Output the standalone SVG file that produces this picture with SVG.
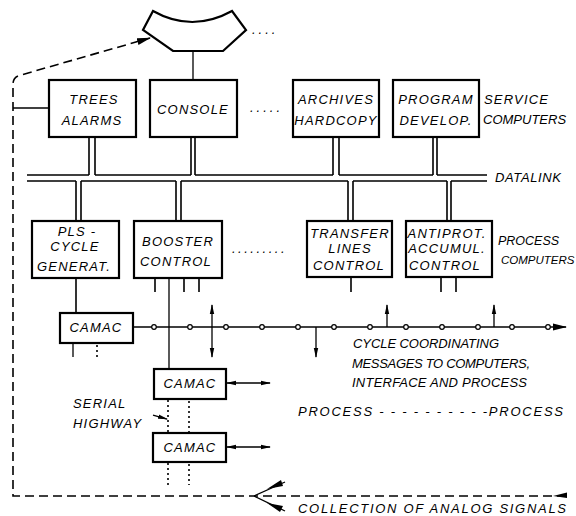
<svg xmlns="http://www.w3.org/2000/svg" width="576" height="516" viewBox="0 0 576 516">
<style>
.bx{fill:#fff;stroke:#000;stroke-width:2.2}
.ln{fill:none;stroke:#000;stroke-width:1.3}
.dl{fill:none;stroke:#000;stroke-width:1.6}
.dash{fill:none;stroke:#000;stroke-width:1.6;stroke-dasharray:9,5}
.dot{fill:none;stroke:#000;stroke-width:1.6;stroke-dasharray:2,3}
.t{font-family:"Liberation Sans",Arial,sans-serif;font-style:italic;font-size:13px;letter-spacing:1.2px;fill:#000}
.n{letter-spacing:0}
.m{text-anchor:middle}
.c{fill:#fff;stroke:#000;stroke-width:1.2}
</style>
<defs>
<marker id="ah" viewBox="0 0 10 6" refX="9" refY="3" markerWidth="10" markerHeight="6" markerUnits="userSpaceOnUse" orient="auto-start-reverse">
<path d="M0,0.8 L10,3 L0,5.2 Z" fill="#000"/>
</marker>
<marker id="ah2" viewBox="0 0 14 8" refX="13" refY="4" markerWidth="14" markerHeight="8" markerUnits="userSpaceOnUse" orient="auto">
<path d="M0,0.5 L14,4 L0,7.5 Z" fill="#000"/>
</marker>
</defs>

<g id="monitor">
<path class="bx" d="M153,11 Q192,33 232,11 L246,30 L223,51 L173,51 L143,30 Z"/>
<text class="t" x="252" y="34" style="letter-spacing:3px">....</text>
</g>

<g id="trees">
<rect class="bx" x="49" y="80" width="87" height="57"/>
<text class="t m" x="94" y="104">TREES</text>
<text class="t m" x="92" y="125">ALARMS</text>
</g>
<g id="console">
<rect class="bx" x="150" y="80" width="87" height="57"/>
<text class="t m" x="193" y="114">CONSOLE</text>
</g>
<text class="t" x="250" y="112" style="letter-spacing:3px">.....</text>
<g id="archives">
<rect class="bx" x="293" y="80" width="86" height="57"/>
<text class="t m" x="336" y="104">ARCHIVES</text>
<text class="t m" x="336" y="125">HARDCOPY</text>
</g>
<g id="program">
<rect class="bx" x="393" y="80" width="86" height="57"/>
<text class="t m" x="436" y="104">PROGRAM</text>
<text class="t m" x="436" y="125">DEVELOP.</text>
</g>
<text class="t n" x="484" y="104" textLength="64" lengthAdjust="spacing">SERVICE</text>
<text class="t n" x="483" y="124">COMPUTERS</text>

<g id="pls">
<rect class="bx" x="32" y="221" width="87" height="57"/>
<text class="t m" x="77" y="236">PLS -</text>
<text class="t m" x="75" y="251">CYCLE</text>
<text class="t m" x="74" y="271">GENERAT.</text>
</g>
<g id="booster">
<rect class="bx" x="134" y="221" width="88" height="57"/>
<text class="t m" x="178" y="246">BOOSTER</text>
<text class="t m" x="176" y="266">CONTROL</text>
</g>
<text class="t" x="232" y="253" style="letter-spacing:2.5px">.........</text>
<g id="transfer">
<rect class="bx" x="307" y="221" width="85" height="56"/>
<text class="t m" x="350" y="238">TRANSFER</text>
<text class="t m" x="350" y="253">LINES</text>
<text class="t m" x="349" y="270">CONTROL</text>
</g>
<g id="antiprot">
<rect class="bx" x="406" y="221" width="86" height="56"/>
<text class="t m" x="447" y="238">ANTIPROT.</text>
<text class="t m" x="447" y="253">ACCUMUL.</text>
<text class="t m" x="445" y="270">CONTROL</text>
</g>
<text class="t n" x="498" y="245" style="font-size:12.5px">PROCESS</text>
<text class="t n" x="501" y="264" style="font-size:11.5px">COMPUTERS</text>

<g id="camac1">
<rect class="bx" x="60" y="313" width="73" height="30"/>
<text class="t m" x="96" y="332">CAMAC</text>
</g>
<g id="camac2">
<rect class="bx" x="154" y="369" width="72" height="30"/>
<text class="t m" x="190" y="388">CAMAC</text>
</g>
<g id="camac3">
<rect class="bx" x="153" y="433" width="73" height="29"/>
<text class="t m" x="190" y="452">CAMAC</text>
</g>

<text class="t n" x="495" y="182" textLength="66" lengthAdjust="spacing">DATALINK</text>
<text class="t n" x="353" y="348" textLength="146" lengthAdjust="spacing">CYCLE COORDINATING</text>
<text class="t n" x="352" y="368" textLength="178" lengthAdjust="spacing">MESSAGES TO COMPUTERS,</text>
<text class="t n" x="352" y="387" textLength="175" lengthAdjust="spacing">INTERFACE AND PROCESS</text>
<text class="t n" x="298" y="416" textLength="265" lengthAdjust="spacing">PROCESS - - - - - - - - - -PROCESS</text>
<text class="t" x="73" y="408">SERIAL</text>
<text class="t" x="73" y="428">HIGHWAY</text>
<text class="t n" x="298" y="513" textLength="268" lengthAdjust="spacing">COLLECTION OF ANALOG SIGNALS</text>

<g id="connectors">
<line class="ln" x1="193" y1="51" x2="193" y2="80"/>
<path class="dl" d="M27,175 H89 M95,175 H191 M195,175 H333 M339,175 H433 M437,175 H487"/>
<path class="dl" d="M27,181 H76 M81,181 H176 M181,181 H348 M353,181 H447 M451,181 H487"/>
<path class="dl" d="M89,137 V175 M95,137 V175 M191,137 V175 M195,137 V175 M333,137 V175 M339,137 V175 M433,137 V175 M437,137 V175"/>
<path class="dl" d="M76,181 V221 M81,181 V221 M176,181 V221 M181,181 V221 M348,181 V221 M353,181 V221 M447,181 V221 M451,181 V221"/>
<line class="ln" x1="13" y1="108" x2="49" y2="108"/>
<path class="dl" d="M155,278 V292 M184,278 V292 M199,278 V292"/>
<line class="ln" x1="169" y1="278" x2="169" y2="369"/>
<path class="dl" d="M351,277 V292 M441,277 V292 M456,277 V292"/>
<line class="dl" x1="76" y1="278" x2="76" y2="313"/>
<line class="ln" x1="73" y1="343" x2="73" y2="357"/>
<line class="dot" x1="97" y1="345" x2="97" y2="357"/>
<line class="dl" x1="133" y1="327" x2="566" y2="327" marker-end="url(#ah2)"/>
<g>
<circle class="c" cx="154" cy="327" r="2.3"/><circle class="c" cx="190" cy="327" r="2.3"/>
<circle class="c" cx="226" cy="327" r="2.3"/><circle class="c" cx="262" cy="327" r="2.3"/>
<circle class="c" cx="298" cy="327" r="2.3"/><circle class="c" cx="334" cy="327" r="2.3"/>
<circle class="c" cx="370" cy="327" r="2.3"/><circle class="c" cx="406" cy="327" r="2.3"/>
<circle class="c" cx="442" cy="327" r="2.3"/><circle class="c" cx="478" cy="327" r="2.3"/>
<circle class="c" cx="512" cy="327" r="2.3"/><circle class="c" cx="548" cy="327" r="2.3"/>
</g>
<line class="ln" x1="212" y1="305" x2="212" y2="357" marker-start="url(#ah)" marker-end="url(#ah)"/>
<line class="ln" x1="316" y1="327" x2="316" y2="357" marker-end="url(#ah)"/>
<line class="ln" x1="387" y1="327" x2="387" y2="305" marker-end="url(#ah)"/>
<line class="ln" x1="494" y1="327" x2="494" y2="305" marker-end="url(#ah)"/>
<line class="ln" x1="227" y1="383" x2="270" y2="383" marker-start="url(#ah)" marker-end="url(#ah)"/>
<line class="ln" x1="227" y1="447" x2="270" y2="447" marker-start="url(#ah)" marker-end="url(#ah)"/>
<path class="dot" d="M168,400 V433 M189,401 V433 M168,463 V485 M189,464 V485"/>
<line class="ln" x1="153" y1="415" x2="167" y2="419" marker-end="url(#ah)"/>
<path class="dash" d="M566,496 H13 V84 Q13,77 21,75 L150,38" marker-end="url(#ah2)"/>
<path d="M553,496 L567,492.5 L567,498 Z" fill="#000"/>
<line class="ln" x1="285" y1="482" x2="254" y2="496"/>
<line class="ln" x1="285" y1="511" x2="254" y2="496"/>
<path d="M267,489 L281,480 L283,486 Z" fill="#000"/>
<path d="M267,503 L283,506 L280,512 Z" fill="#000"/>
</g>
</svg>
